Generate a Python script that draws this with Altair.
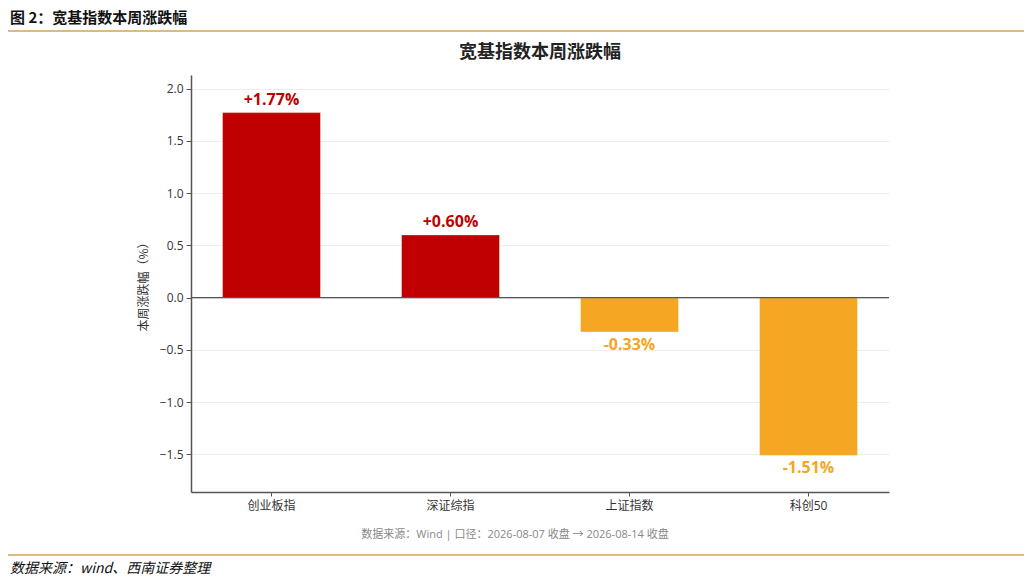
import altair as alt
import pandas as pd

indices = ['创业板指', '深证综指', '上证指数', '科创50']
changes = [1.77, 0.60, -0.33, -1.51]
labels = ['+1.77%', '+0.60%', '-0.33%', '-1.51%']
y_ticks = [-1.5, -1.0, -0.5, 0.0, 0.5, 1.0, 1.5, 2.0]

df = pd.DataFrame({'index': indices, 'change': changes, 'label': labels})
df['dir'] = ['up' if v >= 0 else 'down' for v in changes]

FONT = 'Open Sans, Noto Sans CJK SC'
CJK = 'Noto Sans CJK SC'
RED = '#C00000'
ORANGE = '#F5A623'
GOLD = '#D4A25A'
W, H = 698, 417
LEFT, TOP = 183, 67

x = alt.X('index:N', sort=indices, title=None,
          scale=alt.Scale(paddingInner=0.4525, paddingOuter=0.176),
          axis=alt.Axis(labelAngle=0, labelFontSize=12, labelColor='#333', labelFont=FONT,
                        labelPadding=4, tickColor='#555', tickSize=4, domainColor='#555',
                        domainWidth=1.5))
y = alt.Y('change:Q', title='本周涨跌幅（%）',
          scale=alt.Scale(domain=[-1.86, 2.13], nice=False),
          axis=alt.Axis(values=y_ticks, format='.1f', labelFontSize=12, labelColor='#333',
                        labelFont=FONT, labelPadding=3, tickSize=5, tickColor='#555',
                        domainColor='#555', domainWidth=1.5, gridColor='#eeeeee',
                        titleFont=CJK, titleFontSize=12, titleFontWeight='normal',
                        titleColor='#333', titlePadding=9))
color = alt.Color('dir:N', scale=alt.Scale(domain=['up', 'down'], range=[RED, ORANGE]), legend=None)

base = alt.Chart(df)

bars = base.mark_bar(stroke='white', strokeOpacity=0.4, strokeWidth=1).encode(
    x=x, y=y, y2=alt.datum(0), color=color)

zero = alt.Chart(pd.DataFrame({'z': [0]})).mark_rule(color='#555', strokeWidth=1.2).encode(
    y=alt.Y('z:Q'))

up_text = base.transform_filter(alt.datum.dir == 'up').mark_text(
    font=FONT, fontSize=16, fontWeight='bold', baseline='bottom', dy=-5).encode(
    x=alt.X('index:N', sort=indices), y='change:Q', text='label:N', color=color)

down_text = base.transform_filter(alt.datum.dir == 'down').mark_text(
    font=FONT, fontSize=16, fontWeight='bold', baseline='top', dy=5).encode(
    x=alt.X('index:N', sort=indices), y='change:Q', text='label:N', color=color)

one = pd.DataFrame({'a': [0]})

title = alt.Chart(one).mark_text(
    font=CJK, fontSize=18, fontWeight='bold', align='center', baseline='middle', color='#222').encode(
    x=alt.value(W / 2), y=alt.value(53 - 8 - TOP), text=alt.value('宽基指数本周涨跌幅'))

header = alt.Chart(one).mark_text(
    font=CJK, fontSize=15, fontWeight='bold', align='left', baseline='middle', color='#111').encode(
    x=alt.value(-LEFT + 2), y=alt.value(18 - 8 - TOP), text=alt.value('图 2：宽基指数本周涨跌幅'))

top_line = alt.Chart(one).mark_rule(color=GOLD, strokeWidth=1.5).encode(
    x=alt.value(-LEFT - 3), x2=alt.value(1027 - 8 - LEFT), y=alt.value(31 - 8 - TOP))

bottom_line = alt.Chart(one).mark_rule(color=GOLD, strokeWidth=1.5).encode(
    x=alt.value(-LEFT - 3), x2=alt.value(1027 - 8 - LEFT), y=alt.value(555 - 8 - TOP))

footer = alt.Chart(one).mark_text(
    font=CJK, fontSize=14, fontStyle='italic', align='left', baseline='middle', color='#111').encode(
    x=alt.value(-LEFT + 2), y=alt.value(569 - 8 - TOP), text=alt.value('数据来源：wind、西南证券整理'))

note = alt.Chart(one).mark_text(
    font=FONT, fontSize=11, align='center', baseline='middle', color='#888').encode(
    x=alt.value(515 - 8 - LEFT), y=alt.value(535 - 8 - TOP),
    text=alt.value('数据来源：Wind | 口径：2026-08-07 收盘 → 2026-08-14 收盘'))

chart = alt.layer(bars, zero, up_text, down_text, title, header, top_line, bottom_line, footer, note).properties(
    width=W, height=H,
    autosize=alt.AutoSizeParams(type='none'),
    padding={'left': LEFT, 'top': TOP, 'right': 1016 - LEFT - W, 'bottom': 568 - TOP - H}
).configure_view(stroke=None).configure_axisX(grid=False)

chart.save('out.html', embed_options={'renderer': 'svg', 'actions': False})
